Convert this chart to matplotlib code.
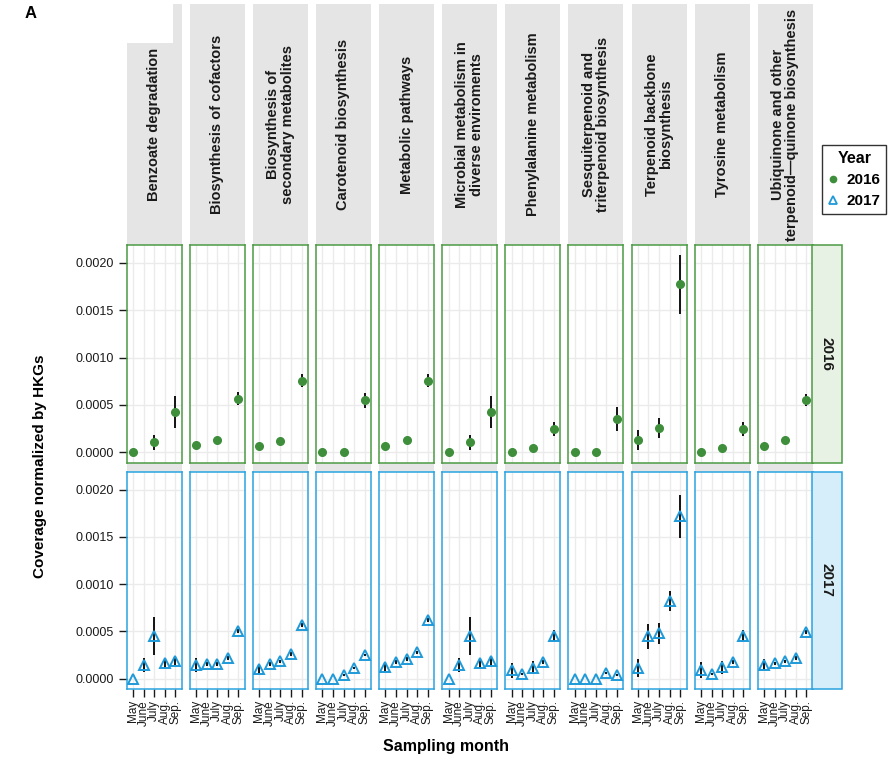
import numpy as np
import matplotlib
matplotlib.use('Agg')
import matplotlib.pyplot as plt
from matplotlib.patches import Rectangle
from matplotlib.lines import Line2D

# Liberation Sans is narrower than DejaVu, closer to the condensed original
plt.rcParams['font.family'] = ['Liberation Sans', 'DejaVu Sans']

# Data
months = ['May', 'June', 'July', 'Aug.', 'Sep.']
pathways = [
    'Benzoate degradation',
    'Biosynthesis of cofactors',
    'Biosynthesis of\nsecondary metabolites',
    'Carotenoid biosynthesis',
    'Metabolic pathways',
    'Microbial metabolism in\ndiverse enviroments',
    'Phenylalanine metabolism',
    'Sesquiterpenoid and\ntriterpenoid biosynthesis',
    'Terpenoid backbone\nbiosynthesis',
    'Tyrosine metabolism',
    'Ubiquinone and other\nterpenoid\u2014quinone biosynthesis',
]
years = ['2016', '2017']
nan = np.nan

# 2016: only May, July and Sep. sampled
mean_2016 = [
    [0.0,      nan, 0.000106, nan, 0.000426],
    [0.000077, nan, 0.000127, nan, 0.000567],
    [0.000067, nan, 0.000116, nan, 0.000757],
    [0.000006, nan, 0.000003, nan, 0.000549],
    [0.000067, nan, 0.000127, nan, 0.000757],
    [0.0,      nan, 0.000106, nan, 0.000426],
    [0.0,      nan, 0.000042, nan, 0.000250],
    [0.0,      nan, 0.0,      nan, 0.000352],
    [0.000133, nan, 0.000257, nan, 0.001775],
    [0.0,      nan, 0.000042, nan, 0.000250],
    [0.000067, nan, 0.000127, nan, 0.000553],
]
err_2016 = [
    [0.0,      nan, 0.00008,  nan, 0.00017],
    [0.0,      nan, 0.0,      nan, 0.00007],
    [0.0,      nan, 0.0,      nan, 0.00007],
    [0.0,      nan, 0.0,      nan, 0.00008],
    [0.0,      nan, 0.0,      nan, 0.00007],
    [0.0,      nan, 0.00008,  nan, 0.00017],
    [0.0,      nan, 0.00004,  nan, 0.000075],
    [0.0,      nan, 0.0,      nan, 0.000125],
    [0.000105, nan, 0.000105, nan, 0.00031],
    [0.0,      nan, 0.00004,  nan, 0.000075],
    [0.0,      nan, 0.0,      nan, 0.000065],
]

mean_2017 = [
    [0.0,      0.000143, 0.000455, 0.000161, 0.000189],
    [0.000147, 0.000158, 0.000158, 0.000217, 0.000508],
    [0.000102, 0.000158, 0.000182, 0.000263, 0.000564],
    [0.0,      0.0,      0.000042, 0.000109, 0.000249],
    [0.000123, 0.000172, 0.000210, 0.000277, 0.000624],
    [0.0,      0.000143, 0.000455, 0.000161, 0.000189],
    [0.000088, 0.000049, 0.000116, 0.000172, 0.000455],
    [0.0,      0.0,      0.0,      0.000063, 0.000042],
    [0.000109, 0.000448, 0.000480, 0.000823, 0.001716],
    [0.000091, 0.000053, 0.000119, 0.000175, 0.000455],
    [0.000147, 0.000161, 0.000182, 0.000217, 0.000490],
]
err_2017 = [
    [0.0,      0.000075, 0.0002,   0.00005,  0.00005],
    [0.000075, 0.00002,  0.00002,  0.00002,  0.00002],
    [0.00005,  0.00002,  0.00002,  0.00002,  0.00002],
    [0.0,      0.0,      0.00001,  0.00001,  0.00001],
    [0.00004,  0.00002,  0.00002,  0.00002,  0.00002],
    [0.0,      0.000075, 0.0002,   0.00005,  0.00005],
    [0.00008,  0.00001,  0.00007,  0.00002,  0.00006],
    [0.0,      0.0,      0.0,      0.00001,  0.00001],
    [0.000095, 0.00013,  0.00011,  0.000105, 0.000225],
    [0.00008,  0.00001,  0.00007,  0.00002,  0.00006],
    [0.00006,  0.00002,  0.00002,  0.00002,  0.00002],
]

means = {'2016': mean_2016, '2017': mean_2017}
errs = {'2016': err_2016, '2017': err_2017}

green = '#3e8e3b'
blue = '#1f9ad8'
edge_col = {'2016': '#4c9a44', '2017': '#2aa3e0'}
strip_fill = {'2016': '#e7f2e4', '2017': '#d6eef9'}
strip_gray = '#e5e5e5'
ink = '#1a1a1a'

W, H = 894, 758
fig = plt.figure(figsize=(W / 100, H / 100), dpi=100)


def fx(px):
    return px / W


def fy(py):
    return 1 - py / H


col_left0 = 126.7
col_step = 63.1
col_w = 55.0
rows = {'2016': (245.0, 462.7), '2017': (471.7, 689.0)}
x = np.arange(1, len(months) + 1)

# gray strip column background (top strip + the gap between rows)
for i, name in enumerate(pathways):
    left = col_left0 + i * col_step
    fig.add_artist(Rectangle((fx(left), fy(471.7)), col_w / W, (471.7 - 4) / H,
                             transform=fig.transFigure, facecolor=strip_gray,
                             edgecolor='none', zorder=-2))
    fig.text(fx(left + col_w / 2), fy(124.5), name, rotation=90, ha='center',
             va='center', multialignment='center', fontsize=10.5,
             fontweight='bold', color=ink, linespacing=1.05)

# white notch over the first strip (from panel label box)
fig.add_artist(Rectangle((0, fy(43)), fx(173), 43 / H, transform=fig.transFigure,
                         facecolor='white', edgecolor='none', zorder=-1))

for yr in years:
    top, bot = rows[yr]
    for i in range(len(pathways)):
        left = col_left0 + i * col_step
        ax = fig.add_axes([fx(left), fy(bot), col_w / W, (bot - top) / H])
        m = np.array(means[yr][i], dtype=float)
        e = np.array(errs[yr][i], dtype=float)
        ok = ~np.isnan(m)
        ax.vlines(x[ok], m[ok] - e[ok], m[ok] + e[ok], color='black',
                  linewidth=1.3, zorder=2)
        if yr == '2016':
            ax.plot(x[ok], m[ok], 'o', color=green, markersize=5.5, zorder=3)
        else:
            ax.plot(x[ok], m[ok], '^', markerfacecolor='none',
                    markeredgecolor=blue, markeredgewidth=1.4,
                    markersize=6.5, zorder=3)
        ax.set_xlim(0.4, 5.6)
        ax.set_ylim(-0.00011, 0.00219)
        ax.set_xticks(x)
        ax.set_yticks([0, 0.0005, 0.0010, 0.0015, 0.0020])
        ax.grid(True, color='#ebebeb', linewidth=1.0)
        ax.set_axisbelow(True)
        for sp in ax.spines.values():
            sp.set_color(edge_col[yr])
            sp.set_linewidth(1.1)
        if i == 0:
            ax.set_yticklabels(['0.0000', '0.0005', '0.0010', '0.0015', '0.0020'])
            ax.tick_params(axis='y', length=6, width=1, color=ink,
                           labelsize=9, labelcolor=ink, pad=3)
        else:
            ax.tick_params(axis='y', length=0, labelleft=False)
        if yr == '2017':
            ax.set_xticklabels(months, rotation=90, va='top', ha='center')
            ax.tick_params(axis='x', length=6, width=1, color=ink,
                           labelsize=8.5, labelcolor=ink, pad=2)
        else:
            ax.tick_params(axis='x', length=0, labelbottom=False)

    # year strip on the right
    fig.add_artist(Rectangle((fx(811.7), fy(bot)), 30 / W, (bot - top) / H,
                             transform=fig.transFigure, facecolor=strip_fill[yr],
                             edgecolor=edge_col[yr], linewidth=1.1, zorder=1))
    fig.text(fx(826.7), fy((top + bot) / 2), yr, rotation=270, ha='center',
             va='center', fontsize=11, fontweight='bold', color=ink)

fig.text(fx(40), fy(466), 'Coverage normalized by HKGs', rotation=90,
         ha='center', va='center', fontsize=11, fontweight='bold', color='black')
fig.text(fx(446), fy(746), 'Sampling month', ha='center', va='center',
         fontsize=11.5, fontweight='bold', color='black')
fig.text(fx(25), fy(6), 'A', ha='left', va='top', fontsize=12,
         fontweight='bold', color='black')

handles = [
    Line2D([], [], marker='o', linestyle='none', color=green, markersize=4.5),
    Line2D([], [], marker='^', linestyle='none', markerfacecolor='none',
           markeredgecolor=blue, markeredgewidth=1.3, markersize=5.5),
]
leg = fig.legend(handles, years, title='Year', loc='upper left',
                 bbox_to_anchor=(fx(822), fy(145)), frameon=True,
                 fancybox=False, edgecolor='black', handlelength=0.7,
                 handletextpad=0.5, borderpad=0.4, labelspacing=0.45,
                 borderaxespad=0, prop={'weight': 'bold', 'size': 11},
                 title_fontproperties={'weight': 'bold', 'size': 11.5})
leg.get_frame().set_linewidth(1.0)

fig.savefig('out.png', dpi=100)
